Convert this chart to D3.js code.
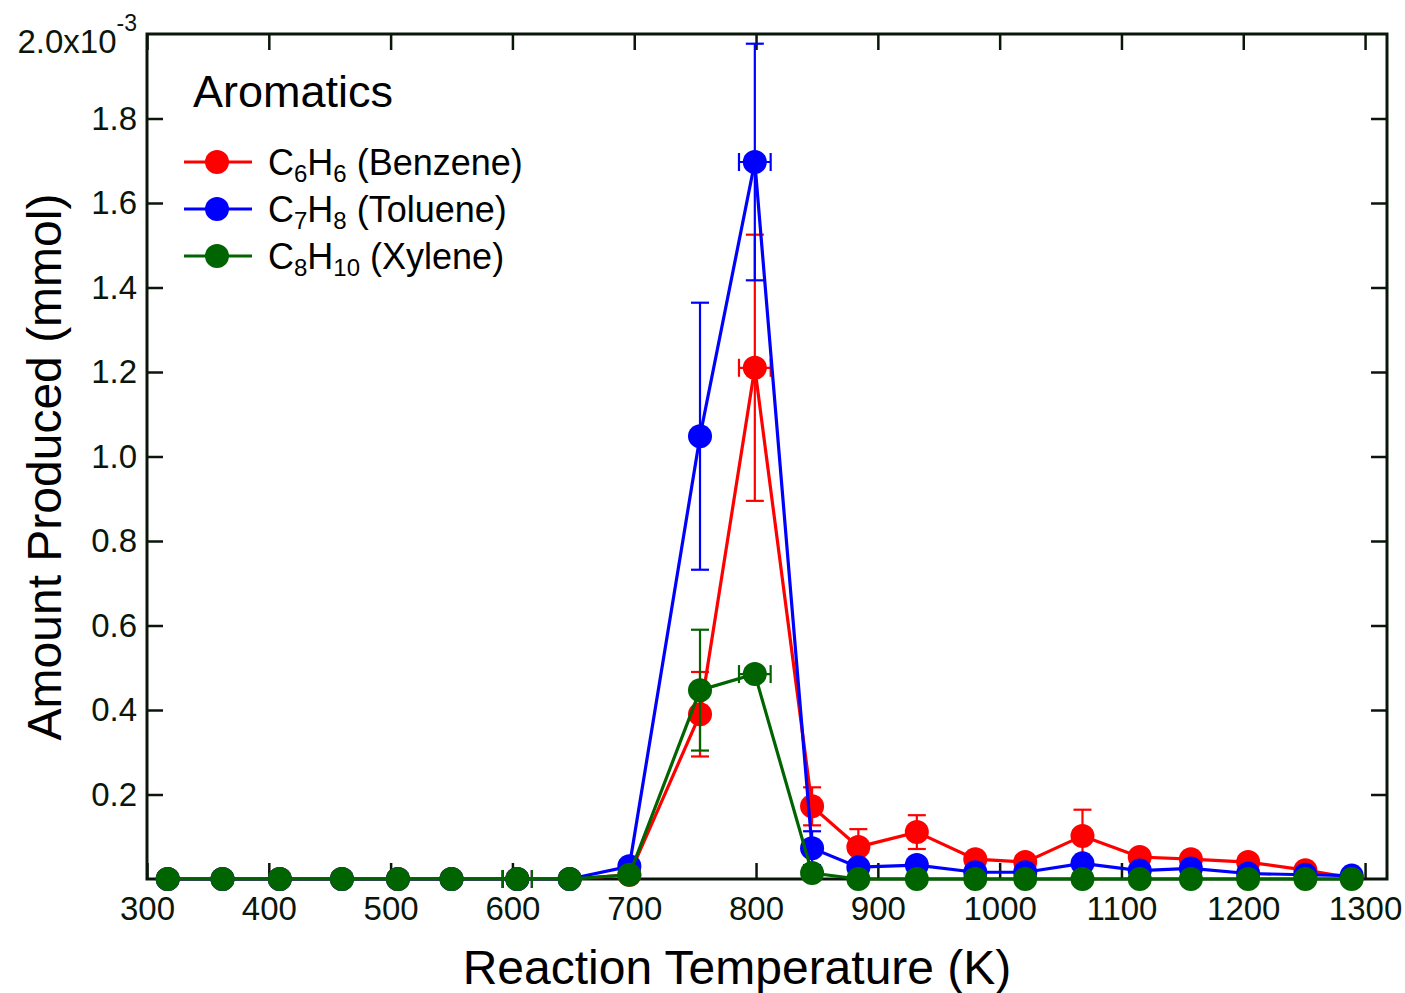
<!DOCTYPE html>
<html><head><meta charset="utf-8">
<script src="https://cdn.jsdelivr.net/npm/d3@7"></script>
<style>body{margin:0;background:#fff}svg{display:block}text{font-family:Arial,"Liberation Sans",sans-serif}</style>
</head><body>
<svg id="c" width="1405" height="993"></svg>
<script>
const temps = [317, 362, 409, 460, 506, 550, 604, 647, 696, 754, 799, 846, 884, 932, 980, 1021, 1068, 1115, 1157, 1204, 1251, 1289];
const benzene = [0,0,0,0,0,0,0,0,0.010,0.390,1.210,0.172,0.076,0.111,0.047,0.040,0.102,0.052,0.047,0.040,0.021,0.003];
const benzeneErr = [0,0,0,0,0,0,0,0,0,0.100,0.315,0.045,0.042,0.040,0,0,0.062,0,0,0,0,0];
const toluene = [0,0,0,0,0,0,0,0,0.030,1.048,1.697,0.073,0.028,0.033,0.016,0.016,0.037,0.020,0.025,0.013,0.010,0.008];
const tolueneErr = [0,0,0,0,0,0,0,0,0,0.316,0.280,0.040,0,0,0,0,0,0,0,0,0,0];
const xylene = [0,0,0,0,0,0,0,0,0.010,0.447,0.485,0.014,0,0,0,0,0,0,0,0,0,0];
const xyleneErr = [0,0,0,0,0,0,0,0,0,0.143,0,0,0,0,0,0,0,0,0,0,0,0];
const tempErr = [0,0,0,0,0,0,12,0,0,0,13,0,0,0,0,0,0,0,0,0,0,0];
const xTicks = [300,400,500,600,700,800,900,1000,1100,1200,1300];
const yTicks = [0.2,0.4,0.6,0.8,1.0,1.2,1.4,1.6,1.8];
const seriesNames = ["Benzene","Toluene","Xylene"];
const formulas = [["C","6","H","6"],["C","7","H","8"],["C","8","H","10"]];
const colors = ["#ff0000","#0000ff","#006400"];

const svg = d3.select("#c");
const L=147, R=1387, T=34, B=879;
const x = d3.scaleLinear().domain([300,1318]).range([L,R]);
const y = d3.scaleLinear().domain([0,2.0]).range([B,T]);
const axisCol = "#0a160a";
const tickFont = 33;

svg.append("rect").attr("x",L).attr("y",T).attr("width",R-L).attr("height",B-T)
  .attr("fill","none").attr("stroke",axisCol).attr("stroke-width",3);

const tl=16;
svg.append("g").attr("transform",`translate(0,${B})`)
  .call(d3.axisBottom(x).tickValues(xTicks).tickSize(-tl).tickPadding(18).tickFormat(d3.format("d")))
  .call(g=>{g.select(".domain").remove();g.selectAll("line").attr("stroke",axisCol).attr("stroke-width",2.5);
    g.selectAll("text").attr("fill",axisCol).attr("font-size",tickFont).attr("font-family","Arial, Liberation Sans");});
svg.append("g").attr("transform",`translate(0,${T})`)
  .call(d3.axisTop(x).tickValues(xTicks).tickSize(-tl).tickFormat(""))
  .call(g=>{g.select(".domain").remove();g.selectAll("line").attr("stroke",axisCol).attr("stroke-width",2.5);});
svg.append("g").attr("transform",`translate(${L},0)`)
  .call(d3.axisLeft(y).tickValues(yTicks).tickSize(-tl).tickPadding(10).tickFormat(d3.format(".1f")))
  .call(g=>{g.select(".domain").remove();g.selectAll("line").attr("stroke",axisCol).attr("stroke-width",2.5);
    g.selectAll("text").attr("fill",axisCol).attr("font-size",tickFont).attr("font-family","Arial, Liberation Sans");});
svg.append("g").attr("transform",`translate(${R},0)`)
  .call(d3.axisRight(y).tickValues(yTicks).tickSize(-tl).tickFormat(""))
  .call(g=>{g.select(".domain").remove();g.selectAll("line").attr("stroke",axisCol).attr("stroke-width",2.5);});

const topLab = svg.append("text").attr("x",137).attr("y",53).attr("text-anchor","end")
  .attr("font-size",tickFont).attr("fill",axisCol);
topLab.append("tspan").text("2.0x10");
topLab.append("tspan").attr("dy",-22).attr("font-size",23).text("-3");

svg.append("text").attr("x",737).attr("y",984).attr("text-anchor","middle")
  .attr("font-size",48).attr("fill","#000").text("Reaction Temperature (K)");
svg.append("text").attr("transform",`translate(61,467) rotate(-90)`).attr("text-anchor","middle")
  .attr("font-size",48).attr("fill","#000").text("Amount Produced (mmol)");

const vals=[benzene,toluene,xylene], errs=[benzeneErr,tolueneErr,xyleneErr];
const line = d3.line().x((d,i)=>x(temps[i])).y(d=>y(d));
const cap=9;
vals.forEach((v,si)=>{
  const g = svg.append("g");
  const c = colors[si];
  v.forEach((d,i)=>{
    const e=errs[si][i];
    if(e>0){
      g.append("line").attr("x1",x(temps[i])).attr("x2",x(temps[i])).attr("y1",y(d-e)).attr("y2",y(d+e)).attr("stroke",c).attr("stroke-width",2.2);
      [d-e,d+e].forEach(yy=>g.append("line").attr("x1",x(temps[i])-cap).attr("x2",x(temps[i])+cap).attr("y1",y(yy)).attr("y2",y(yy)).attr("stroke",c).attr("stroke-width",2.2));
    }
    const xe=tempErr[i];
    if(xe>0){
      g.append("line").attr("x1",x(temps[i]-xe)).attr("x2",x(temps[i]+xe)).attr("y1",y(d)).attr("y2",y(d)).attr("stroke",c).attr("stroke-width",2.2);
      [temps[i]-xe,temps[i]+xe].forEach(xx=>g.append("line").attr("x1",x(xx)).attr("x2",x(xx)).attr("y1",y(d)-cap).attr("y2",y(d)+cap).attr("stroke",c).attr("stroke-width",2.2));
    }
  });
  g.append("path").datum(v).attr("d",line).attr("fill","none").attr("stroke",c).attr("stroke-width",3.2);
  g.selectAll("circle").data(v).join("circle").attr("cx",(d,i)=>x(temps[i])).attr("cy",d=>y(d)).attr("r",12).attr("fill",c);
});

svg.append("text").attr("x",193).attr("y",107).attr("font-size",45).attr("fill","#000").text("Aromatics");
const ly=[162,209,256];
seriesNames.forEach((n,i)=>{
  const c=colors[i];
  svg.append("line").attr("x1",184).attr("x2",252).attr("y1",ly[i]).attr("y2",ly[i]).attr("stroke",c).attr("stroke-width",3.2);
  svg.append("circle").attr("cx",217).attr("cy",ly[i]).attr("r",12).attr("fill",c);
  const t=svg.append("text").attr("x",268).attr("y",ly[i]+13).attr("font-size",36).attr("fill","#000");
  const f=formulas[i];
  t.append("tspan").text(f[0]);
  t.append("tspan").attr("font-size",24).attr("dy",7).text(f[1]);
  t.append("tspan").attr("dy",-7).text(f[2]);
  t.append("tspan").attr("font-size",24).attr("dy",7).text(f[3]);
  t.append("tspan").attr("dy",-7).text(" ("+n+")");
});
</script>
</body></html>
